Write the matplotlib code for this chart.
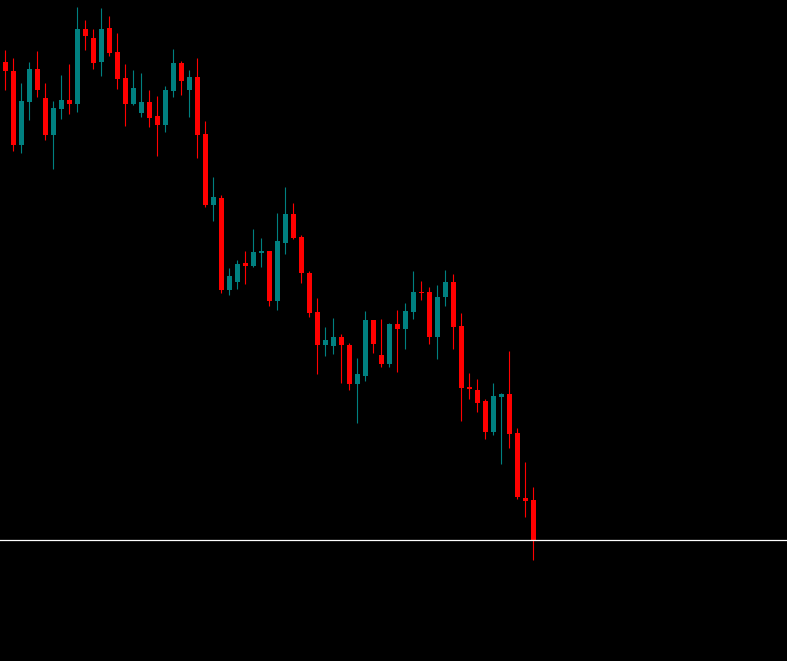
import numpy as np
import matplotlib
matplotlib.use("Agg")
import matplotlib.pyplot as plt

# OHLC values (one entry per bar, oldest first)
opens = [599, 590, 516, 559, 592, 563, 526, 552, 561, 557, 632, 623, 599, 633, 609, 583, 557,
         548, 559, 545, 536, 570, 598, 571, 584, 527, 456, 463, 371, 379, 398, 395, 408, 410,
         360, 418, 447, 424, 388, 349, 316, 315, 324, 316, 277, 285, 341, 306, 297, 337, 332,
         349, 369, 369, 324, 364, 379, 335, 274, 271, 260, 229, 264, 267, 228, 163, 161]
highs = [611, 603, 578, 599, 610, 578, 560, 586, 597, 654, 641, 632, 653, 645, 628, 597, 591,
         588, 571, 565, 575, 612, 600, 591, 603, 540, 484, 466, 393, 401, 410, 432, 423, 410,
         448, 474, 458, 426, 390, 363, 334, 343, 327, 318, 303, 350, 341, 342, 338, 351, 358,
         390, 380, 374, 376, 391, 387, 348, 288, 282, 262, 278, 268, 310, 233, 199, 174]
lows = [571, 510, 508, 541, 564, 521, 492, 542, 547, 549, 611, 592, 585, 605, 572, 535, 556,
        544, 534, 505, 529, 564, 566, 544, 503, 454, 440, 368, 366, 372, 377, 394, 394, 355,
        351, 407, 422, 378, 344, 287, 305, 307, 278, 271, 238, 280, 308, 294, 294, 289, 312,
        342, 361, 317, 302, 355, 312, 240, 262, 249, 222, 226, 197, 213, 162, 144, 101]
closes = [590, 516, 560, 592, 571, 526, 553, 561, 557, 632, 625, 598, 632, 608, 582, 557, 573,
          559, 543, 536, 571, 598, 580, 584, 526, 456, 464, 371, 385, 397, 395, 409, 410, 360,
          420, 447, 423, 388, 348, 316, 321, 324, 316, 277, 287, 341, 317, 297, 337, 332, 350,
          369, 368, 324, 364, 379, 334, 273, 272, 258, 229, 265, 267, 227, 164, 160, 121]

UP_COLOR = "#008080"
DOWN_COLOR = "#ff0000"

o = np.array(opens)
h = np.array(highs)
l = np.array(lows)
c = np.array(closes)
idx = np.arange(len(o))
colors = [UP_COLOR if cc > oo else DOWN_COLOR for oo, cc in zip(o, c)]

fig = plt.figure(figsize=(7.87, 6.61), dpi=100, facecolor="black")
ax = fig.add_axes([0, 0, 1, 1])
ax.set_facecolor("black")

# wicks
ax.vlines(idx, l, h, colors=colors, linewidth=0.8, zorder=1)

# bodies (keep a minimum height so dojis still show)
bottoms = np.minimum(o, c)
heights = np.maximum(np.abs(c - o), 1.5)
ax.bar(idx, heights, bottom=bottoms, width=0.625, color=colors,
       linewidth=0, zorder=2)

# current price line
ax.axhline(c[-1] + 0.5, color="white", linewidth=0.9)

ax.set_xlim(-0.6875, 97.69)
ax.set_ylim(0, 661)
ax.axis("off")

fig.savefig("out.png", dpi=100, facecolor="black")
